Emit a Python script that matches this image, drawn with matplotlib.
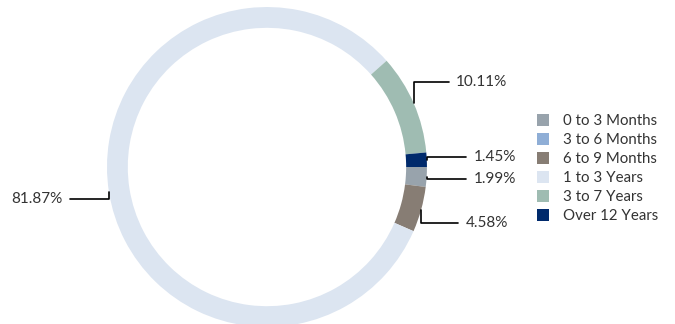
import matplotlib
matplotlib.use("Agg")
import matplotlib.pyplot as plt
import numpy as np

plt.rcParams['font.family'] = ['Lato', 'DejaVu Sans']

# maturity buckets, legend order (clockwise from 3 o'clock)
categories = ['0 to 3 Months', '3 to 6 Months', '6 to 9 Months',
              '1 to 3 Years', '3 to 7 Years', 'Over 12 Years']
values = [1.99, 0.0, 4.58, 81.87, 10.11, 1.45]
colors = ['#98A3AC', '#8FAED6', '#877D74', '#DCE5F1', '#9FBCB2', '#002A6C']

# label text positions (in units of ring radius) for the non-zero slices
label_pos = {
    '0 to 3 Months': (1.29, -0.075),
    '6 to 9 Months': (1.24, -0.35),
    '1 to 3 Years': (-1.275, -0.20),
    '3 to 7 Years': (1.18, 0.53),
    'Over 12 Years': (1.29, 0.06),
}

fig = plt.figure(figsize=(6.75, 3.24), dpi=100)
ax = fig.add_axes([0.1585, -0.0093, 0.474, 0.9877])

wedges, _ = ax.pie(values, colors=colors, startangle=0, counterclock=False,
                   radius=1.0, wedgeprops=dict(width=0.13, linewidth=0))
ax.set_xlim(-1, 1)
ax.set_ylim(-1, 1)
ax.set_aspect('equal')

for w, cat, v in zip(wedges, categories, values):
    if v <= 0:
        continue
    mid = np.deg2rad((w.theta1 + w.theta2) / 2)
    px, py = np.cos(mid), np.sin(mid)
    tx, ty = label_pos[cat]
    ha = 'left' if tx > 0 else 'right'
    ax.annotate(f'{v:.2f}%', xy=(px, py), xytext=(tx, ty),
                ha=ha, va='center', fontsize=11, color='#333333',
                annotation_clip=False,
                arrowprops=dict(arrowstyle='-', color='black', lw=1.2,
                                shrinkA=3, shrinkB=0,
                                connectionstyle='angle,angleA=0,angleB=90,rad=0'))

leg = fig.legend(wedges, categories, loc='upper left',
                 bbox_to_anchor=(0.786, 0.667), frameon=False,
                 fontsize=10.8, handlelength=0.85, handleheight=0.85,
                 handletextpad=0.9, labelspacing=0.32, borderaxespad=0)
for t in leg.get_texts():
    t.set_color('#333333')

fig.savefig('out.png', dpi=100)
